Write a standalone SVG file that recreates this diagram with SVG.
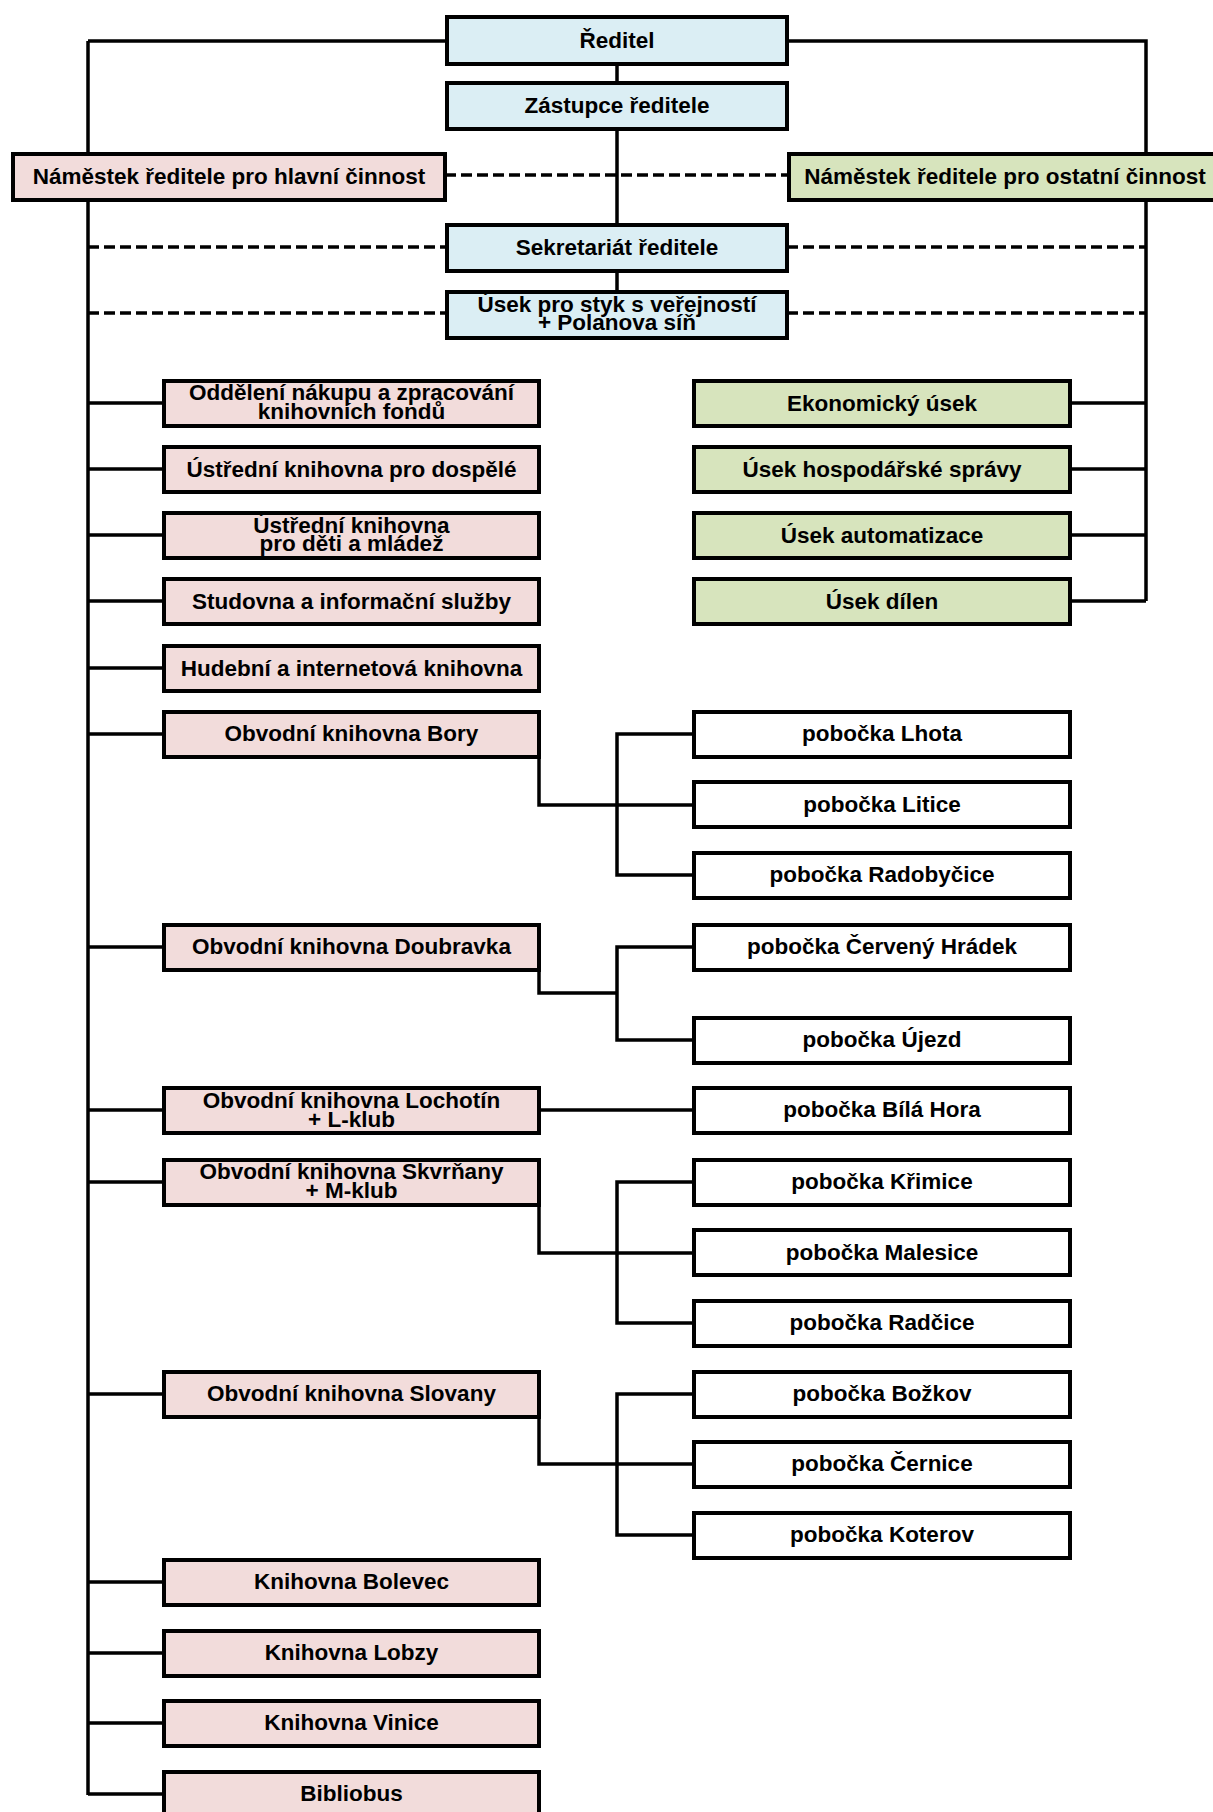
<svg xmlns="http://www.w3.org/2000/svg" width="1213" height="1812" viewBox="0 0 1213 1812">
<style>
.box{stroke:#000;stroke-width:4}
.pink{fill:#f2dcdb}
.blue{fill:#dbeef4}
.green{fill:#d7e4bd}
.white{fill:#ffffff}
text{font-family:"Liberation Sans",Arial,sans-serif;font-weight:bold;font-size:22.5px;fill:#000;text-anchor:middle}
.c{fill:none;stroke:#000;stroke-width:3.5}
.d{fill:none;stroke:#000;stroke-width:3.5;stroke-dasharray:11 5}
</style>
<rect width="1213" height="1812" fill="#ffffff"/>
<g id="connectors">
<path class="c" d="M88,41 V1795 M88,41 H447 M787,41 H1146 V601 M617,64 V292"/>
<path class="d" d="M445,175 H789 M88,247 H447 M787,247 H1146 M88,313 H447 M787,313 H1146"/>
<path class="c" d="M88,403 H164 M88,469 H164 M88,535 H164 M88,601 H164 M88,668 H164 M88,734 H164 M88,947 H164 M88,1110 H164 M88,1182 H164 M88,1394 H164 M88,1582 H164 M88,1653 H164 M88,1723 H164 M88,1794 H164"/>
<path class="c" d="M1070,403 H1146 M1070,469 H1146 M1070,535 H1146 M1070,601 H1146"/>
<path class="c" d="M539,757 V805 H694 M694,734 H617 V875 H694"/>
<path class="c" d="M539,970 V993 H617 M694,947 H617 V1040 H694"/>
<path class="c" d="M539,1110 H694"/>
<path class="c" d="M539,1205 V1253 H694 M694,1182 H617 V1323 H694"/>
<path class="c" d="M539,1417 V1464 H694 M694,1394 H617 V1535 H694"/>
</g>
<g id="reditel"><rect class="box blue" x="447" y="17" width="340" height="47"/><text x="617" y="48">Ředitel</text></g>
<g id="zastupce"><rect class="box blue" x="447" y="83" width="340" height="46"/><text x="617" y="113">Zástupce ředitele</text></g>
<g id="namestek-hlavni"><rect class="box pink" x="13" y="154" width="432" height="46"/><text x="229" y="184">Náměstek ředitele pro hlavní činnost</text></g>
<g id="namestek-ostatni"><rect class="box green" x="789" y="154" width="434" height="46"/><text x="1005" y="184">Náměstek ředitele pro ostatní činnost</text></g>
<g id="sekretariat"><rect class="box blue" x="447" y="225" width="340" height="46"/><text x="617" y="255">Sekretariát ředitele</text></g>
<g id="usek-styk"><rect class="box blue" x="447" y="292" width="340" height="46"/><text x="617" y="312">Úsek pro styk s veřejností</text><text x="617" y="330">+ Polanova síň</text></g>

<g id="oddeleni-nakupu"><rect class="box pink" x="164" y="381" width="375" height="45"/><text x="351.5" y="400">Oddělení nákupu a zpracování</text><text x="351.5" y="419">knihovních fondů</text></g>
<g id="ustredni-dospele"><rect class="box pink" x="164" y="447" width="375" height="45"/><text x="351.5" y="477">Ústřední knihovna pro dospělé</text></g>
<g id="ustredni-deti"><rect class="box pink" x="164" y="513" width="375" height="45"/><text x="351.5" y="533">Ústřední knihovna</text><text x="351.5" y="551">pro děti a mládež</text></g>
<g id="studovna"><rect class="box pink" x="164" y="579" width="375" height="45"/><text x="351.5" y="609">Studovna a informační služby</text></g>
<g id="hudebni"><rect class="box pink" x="164" y="646" width="375" height="45"/><text x="351.5" y="676">Hudební a internetová knihovna</text></g>
<g id="bory"><rect class="box pink" x="164" y="712" width="375" height="45"/><text x="351.5" y="741">Obvodní knihovna Bory</text></g>
<g id="doubravka"><rect class="box pink" x="164" y="925" width="375" height="45"/><text x="351.5" y="954">Obvodní knihovna Doubravka</text></g>
<g id="lochotin"><rect class="box pink" x="164" y="1088" width="375" height="45"/><text x="351.5" y="1108">Obvodní knihovna Lochotín</text><text x="351.5" y="1127">+ L-klub</text></g>
<g id="skvrnany"><rect class="box pink" x="164" y="1160" width="375" height="45"/><text x="351.5" y="1179">Obvodní knihovna Skvrňany</text><text x="351.5" y="1198">+ M-klub</text></g>
<g id="slovany"><rect class="box pink" x="164" y="1372" width="375" height="45"/><text x="351.5" y="1401">Obvodní knihovna Slovany</text></g>
<g id="bolevec"><rect class="box pink" x="164" y="1560" width="375" height="45"/><text x="351.5" y="1589">Knihovna Bolevec</text></g>
<g id="lobzy"><rect class="box pink" x="164" y="1631" width="375" height="45"/><text x="351.5" y="1660">Knihovna Lobzy</text></g>
<g id="vinice"><rect class="box pink" x="164" y="1701" width="375" height="45"/><text x="351.5" y="1730">Knihovna Vinice</text></g>
<g id="bibliobus"><rect class="box pink" x="164" y="1772" width="375" height="50"/><text x="351.5" y="1801">Bibliobus</text></g>

<g id="ekonomicky"><rect class="box green" x="694" y="381" width="376" height="45"/><text x="882" y="411">Ekonomický úsek</text></g>
<g id="hospodarske"><rect class="box green" x="694" y="447" width="376" height="45"/><text x="882" y="477">Úsek hospodářské správy</text></g>
<g id="automatizace"><rect class="box green" x="694" y="513" width="376" height="45"/><text x="882" y="543">Úsek automatizace</text></g>
<g id="dilen"><rect class="box green" x="694" y="579" width="376" height="45"/><text x="882" y="609">Úsek dílen</text></g>

<g id="lhota"><rect class="box white" x="694" y="712" width="376" height="45"/><text x="882" y="741">pobočka Lhota</text></g>
<g id="litice"><rect class="box white" x="694" y="782" width="376" height="45"/><text x="882" y="812">pobočka Litice</text></g>
<g id="radobycice"><rect class="box white" x="694" y="853" width="376" height="45"/><text x="882" y="882">pobočka Radobyčice</text></g>
<g id="cerveny-hradek"><rect class="box white" x="694" y="925" width="376" height="45"/><text x="882" y="954">pobočka Červený Hrádek</text></g>
<g id="ujezd"><rect class="box white" x="694" y="1018" width="376" height="45"/><text x="882" y="1047">pobočka Újezd</text></g>
<g id="bila-hora"><rect class="box white" x="694" y="1088" width="376" height="45"/><text x="882" y="1117">pobočka Bílá Hora</text></g>
<g id="krimice"><rect class="box white" x="694" y="1160" width="376" height="45"/><text x="882" y="1189">pobočka Křimice</text></g>
<g id="malesice"><rect class="box white" x="694" y="1230" width="376" height="45"/><text x="882" y="1260">pobočka Malesice</text></g>
<g id="radcice"><rect class="box white" x="694" y="1301" width="376" height="45"/><text x="882" y="1330">pobočka Radčice</text></g>
<g id="bozkov"><rect class="box white" x="694" y="1372" width="376" height="45"/><text x="882" y="1401">pobočka Božkov</text></g>
<g id="cernice"><rect class="box white" x="694" y="1442" width="376" height="45"/><text x="882" y="1471">pobočka Černice</text></g>
<g id="koterov"><rect class="box white" x="694" y="1513" width="376" height="45"/><text x="882" y="1542">pobočka Koterov</text></g>
</svg>
